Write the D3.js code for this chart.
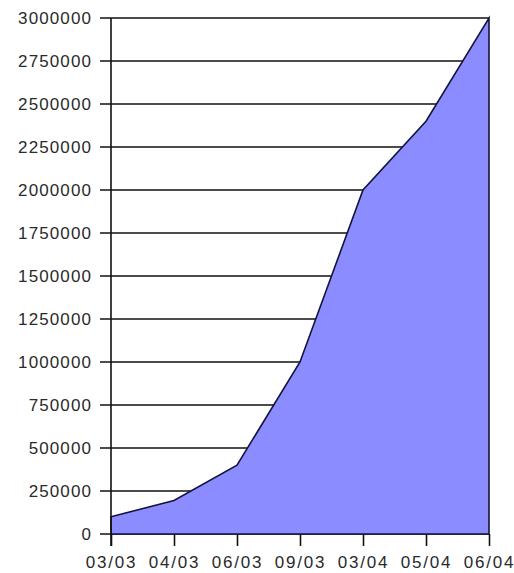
<!DOCTYPE html>
<html lang="en">
<head>
	<script src='https://d3js.org/d3.v7.min.js'></script>
	<style>
		body { margin: 0; background: white; }
		text { font-family: "Liberation Sans", Arial, sans-serif; fill: #2a2a2a; }
	</style>
</head>
<body>
	<script>
    // dates (month/year) and cumulative values
    var dates = ["03/03", "04/03", "06/03", "09/03", "03/04", "05/04", "06/04"];
    var values = [100000, 195000, 400000, 1000000, 2000000, 2400000, 3000000];
    var yTicks = [0, 250000, 500000, 750000, 1000000, 1250000, 1500000, 1750000,
                  2000000, 2250000, 2500000, 2750000, 3000000];

    var width = 514;
    var height = 573;
    var plotLeft = 111, plotRight = 489, plotTop = 18, plotBottom = 534;

    var svg = d3.select("body").append("svg")
        .attr("width", width)
        .attr("height", height);

    var x = d3.scalePoint()
        .domain(dates)
        .range([plotLeft, plotRight]);

    var y = d3.scaleLinear()
        .domain([0, 3000000])
        .range([plotBottom, plotTop]);

    // horizontal gridlines, drawn under the area
    svg.append("g")
        .selectAll("line")
        .data(yTicks)
        .enter()
        .append("line")
        .attr("x1", plotLeft - 11)
        .attr("x2", plotRight)
        .attr("y1", function (d) { return y(d); })
        .attr("y2", function (d) { return y(d); })
        .style("stroke", "#111")
        .style("stroke-width", 1.6);

    var area = d3.area()
        .x(function (d, i) { return x(dates[i]); })
        .y0(y(0))
        .y1(function (d) { return y(d); });

    svg.append("path")
        .datum(values)
        .attr("d", area)
        .style("fill", "#8a8cff")
        .style("stroke", "#14143c")
        .style("stroke-width", 1.6);

    // y axis
    var yAxis = svg.append("g")
        .attr("transform", "translate(" + plotLeft + ",0)")
        .call(d3.axisLeft(y).tickValues(yTicks).tickSize(11).tickPadding(8).tickFormat(d3.format("d")));
    yAxis.select(".domain").remove();
    yAxis.selectAll("line").remove();
    yAxis.selectAll("text")
        .style("font-size", "17px")
        .style("letter-spacing", "1.1px");

    svg.append("line")
        .attr("x1", plotLeft).attr("x2", plotLeft)
        .attr("y1", plotTop).attr("y2", plotBottom + 12)
        .style("stroke", "#111")
        .style("stroke-width", 1.6);

    // x axis
    var xAxis = svg.append("g")
        .attr("transform", "translate(0," + plotBottom + ")")
        .call(d3.axisBottom(x).tickSize(12).tickPadding(10));
    xAxis.select(".domain").remove();
    xAxis.selectAll("line")
        .style("stroke", "#111")
        .style("stroke-width", 1.6);
    xAxis.selectAll("text")
        .style("font-size", "17px")
        .style("letter-spacing", "1.8px");
	</script>
</body>
</html>
